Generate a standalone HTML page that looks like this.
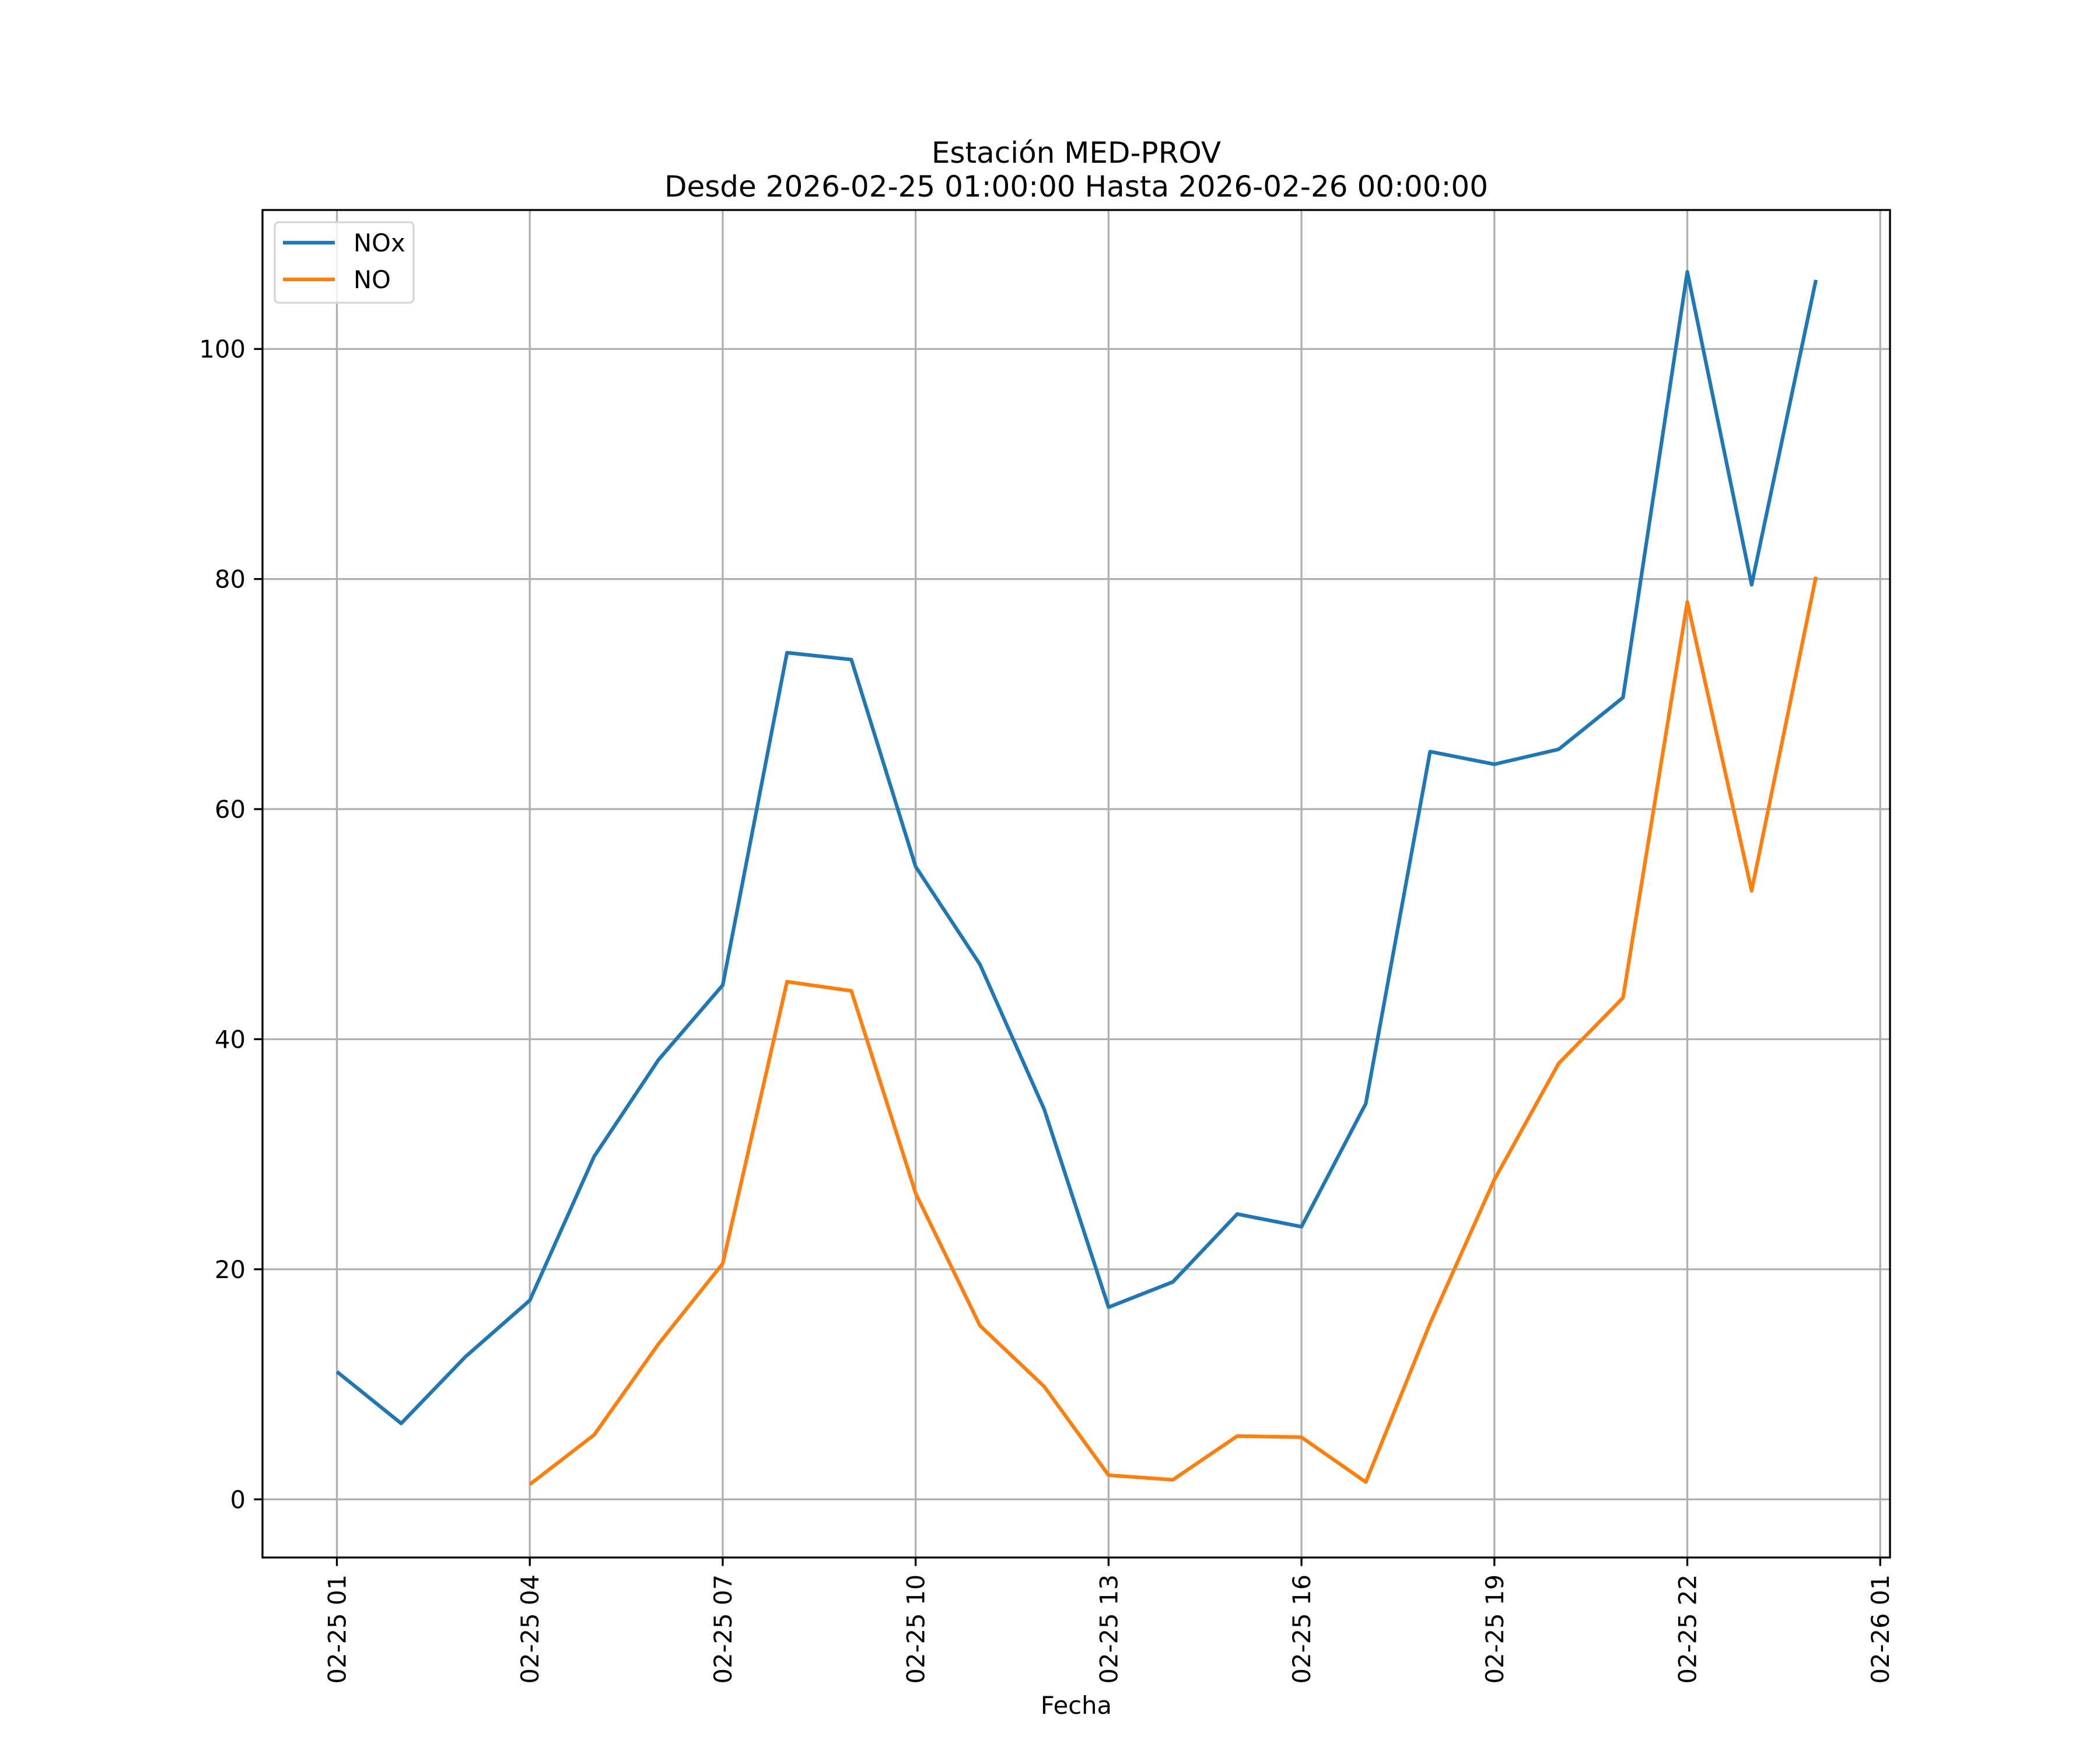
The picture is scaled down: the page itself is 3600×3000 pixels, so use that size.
<!DOCTYPE html>
<html><head><meta charset="utf-8"><style>
html,body{margin:0;padding:0;background:#fff;}
svg{display:block;font-family:"DejaVu Sans","Liberation Sans",sans-serif;}
</style></head><body>
<svg id="chart" width="3600" height="3000" viewBox="0 0 3600 3000" xmlns="http://www.w3.org/2000/svg">
<rect x="0" y="0" width="3600" height="3000" fill="#fff"/>
<text x="1845" y="279" text-anchor="middle" font-size="50">Estación MED-PROV</text>
<text x="1845" y="337" text-anchor="middle" font-size="50">Desde 2026-02-25 01:00:00 Hasta 2026-02-26 00:00:00</text>
<g id="grid"></g>
<g id="series"></g>
<rect x="450" y="360" width="2790" height="2310" fill="none" stroke="#000" stroke-width="3.3"/>
<g id="ticks"></g>
<text x="1845" y="2938" text-anchor="middle" font-size="41.7">Fecha</text>
<g>
<rect x="471" y="381" width="238" height="138" rx="7" fill="#fff" fill-opacity="0.8" stroke="#d6d6d6" stroke-width="3.3"/>
<line x1="485" y1="416" x2="574" y2="416" stroke="#1f77b4" stroke-width="6.25"/>
<text x="606" y="431" font-size="41.7">NOx</text>
<line x1="485" y1="479" x2="574" y2="479" stroke="#ff7f0e" stroke-width="6.25"/>
<text x="606" y="494" font-size="41.7">NO</text>
</g>
</svg>
<script>
const hours = [1,2,3,4,5,6,7,8,9,10,11,12,13,14,15,16,17,18,19,20,21,22,23,24];
const noxValues = [11.1,6.6,12.4,17.3,29.8,38.2,44.7,73.6,73.0,55.0,46.5,33.9,16.7,18.9,24.8,23.7,34.4,65.0,63.9,65.2,69.7,106.7,79.5,106.0];
const noValues = [null,null,null,1.3,5.6,13.5,20.5,45.0,44.2,26.6,15.1,9.8,2.1,1.7,5.5,5.4,1.5,15.3,27.8,37.9,43.6,78.0,52.9,80.2];
const xTickHours = [1,4,7,10,13,16,19,22,25];
const xTickLabels = ["02-25 01","02-25 04","02-25 07","02-25 10","02-25 13","02-25 16","02-25 19","02-25 22","02-26 01"];
const yTicks = [0,20,40,60,80,100];

const L=450,R=3240,T=360,B=2670;
const x0=-0.1566,x1=25.152,y0=-5.056,y1=112.08;
const xs=h=>L+(h-x0)/(x1-x0)*(R-L);
const ys=v=>B-(v-y0)/(y1-y0)*(B-T);
const NS="http://www.w3.org/2000/svg";
const grid=document.getElementById('grid'),ticks=document.getElementById('ticks'),series=document.getElementById('series');
function mk(tag,attrs,parent){const e=document.createElementNS(NS,tag);for(const k in attrs)e.setAttribute(k,attrs[k]);parent.appendChild(e);return e;}
xTickHours.forEach((h,i)=>{
  const x=xs(h);
  const g=mk('line',{x1:x,x2:x,y1:T,y2:B,stroke:'#b0b0b0','stroke-width':3.3},grid);
  
  
  const t=mk('line',{x1:x,x2:x,y1:B,y2:B+14.6,stroke:'#000','stroke-width':3.3},ticks);
  
  
  const ax=x+15, ay=B+29;
  const tx=mk('text',{x:ax,y:ay,'font-size':41.7,'text-anchor':'end',transform:`rotate(-90 ${ax} ${ay})`},ticks);
  tx.textContent=xTickLabels[i];
  
  
});
yTicks.forEach(v=>{
  const y=ys(v);
  const g=mk('line',{x1:L,x2:R,y1:y,y2:y,stroke:'#b0b0b0','stroke-width':3.3},grid);
  
  
  const t=mk('line',{x1:L-14.6,x2:L,y1:y,y2:y,stroke:'#000','stroke-width':3.3},ticks);
  
  
  const tx=mk('text',{x:L-29,y:y+15,'font-size':41.7,'text-anchor':'end'},ticks);
  tx.textContent=String(v);
  
  
});
function path(vals){let d='',pen=false;vals.forEach((v,i)=>{if(v==null){pen=false;return;}d+=(pen?'L':'M')+xs(hours[i]).toFixed(2)+' '+ys(v).toFixed(2)+' ';pen=true;});return d;}
const p1=mk('path',{d:path(noxValues),fill:'none',stroke:'#1f77b4','stroke-width':6.25,'stroke-linejoin':'round'},series);


const p2=mk('path',{d:path(noValues),fill:'none',stroke:'#ff7f0e','stroke-width':6.25,'stroke-linejoin':'round'},series);


</script>
</body></html>
